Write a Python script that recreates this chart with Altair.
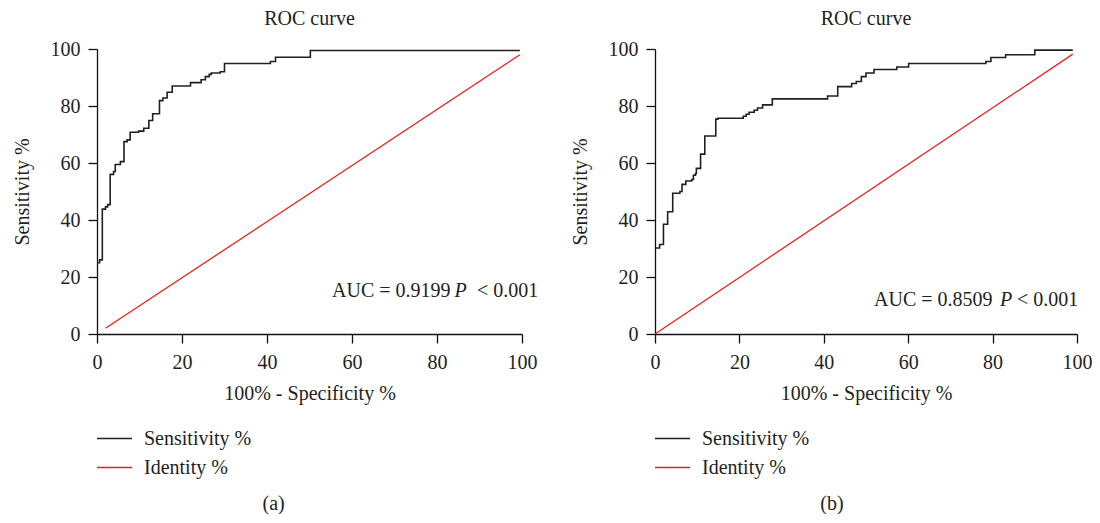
import altair as alt
import pandas as pd

F = "Liberation Serif"
TXT = "#231f20"

# ---- data ----
series = ["Sensitivity %", "Identity %"]
colors = ["#231f20", "#e8211c"]

# panel (a): ROC steps (x where a level starts, level)
a_fpr = [0, 0.6, 1.25, 2.0, 2.5, 3.1, 3.9, 4.3, 5.5, 6.35, 7.1, 7.8, 9.8, 11.0,
         12.2, 13.1, 14.7, 15.5, 16.5, 17.7, 22.0, 24.5, 25.5, 26.4, 26.9, 29.0,
         30.0, 40.8, 42.0, 50.2, 99.5]
a_sens = [25.0, 26.0, 43.8, 44.6, 45.4, 56.0, 57.0, 59.5, 60.5, 67.5, 68.1, 70.8,
          71.2, 72.2, 74.9, 77.3, 81.9, 82.8, 84.8, 87.0, 88.2, 89.2, 90.3, 91.1,
          91.6, 92.0, 94.9, 95.6, 97.1, 99.5, 99.5]
a_id_x = [2.0, 99.5]
a_id_y = [2.0, 98.0]

# panel (b)
b_fpr = [0, 1.1, 2.0, 3.0, 4.2, 5.9, 6.4, 7.3, 8.7, 9.1, 9.6, 9.8, 10.8, 11.8,
         14.4, 14.9, 20.9, 21.6, 22.3, 23.5, 24.3, 25.5, 27.8, 40.9, 43.3, 46.6,
         47.7, 48.9, 50.0, 51.9, 57.3, 60.1, 78.4, 79.6, 83.1, 90.0, 99.0]
b_sens = [30.2, 31.4, 38.5, 42.9, 49.4, 50.0, 52.5, 53.7, 54.2, 55.7, 56.3, 58.1,
          63.1, 69.5, 75.4, 75.7, 76.4, 77.1, 77.8, 78.5, 79.3, 80.4, 82.5, 83.5,
          86.8, 87.9, 88.6, 90.3, 91.6, 92.8, 93.7, 94.9, 95.6, 97.0, 98.0, 99.6, 99.6]
b_id_x = [0.0, 99.0]
b_id_y = [0.0, 98.2]

auc_texts = ["AUC = 0.9199", "AUC = 0.8509"]
p_label = "P"
p_value = "< 0.001"
tags = ["(a)", "(b)"]
ticks = [0, 20, 40, 60, 80, 100]


def panel(fpr, sens, idx, idy, auc, tag, w, h, auc_x, tag_x):
    roc = pd.DataFrame({"x": fpr, "y": sens, "s": series[0], "o": range(len(fpr))})
    ident = pd.DataFrame({"x": idx, "y": idy, "s": series[1], "o": range(len(idx))})
    one = pd.DataFrame({"k": [0]})

    color = alt.Color("s:N", scale=alt.Scale(domain=series, range=colors), legend=None)
    X = alt.X("x:Q", scale=alt.Scale(domain=[0, 100], nice=False, zero=False),
              axis=alt.Axis(values=ticks, title="100% - Specificity %", labelPadding=9,
                            titlePadding=11, labelFlush=False))
    Y = alt.Y("y:Q", scale=alt.Scale(domain=[0, 100], nice=False, zero=False),
              axis=alt.Axis(values=ticks, title="Sensitivity %", labelPadding=8,
                            titlePadding=18, labelFlush=False))

    red = alt.Chart(ident).mark_line(strokeWidth=1.3).encode(x=X, y=Y, color=color, order="o:Q")
    black = alt.Chart(roc).mark_line(strokeWidth=1.6, interpolate="step-after").encode(
        x=X, y=Y, color=color, order="o:Q")

    base = alt.Chart(one)
    t1 = base.mark_text(align="left", baseline="alphabetic", font=F, fontSize=20,
                        color=TXT, text=auc).encode(x=alt.value(auc_x[0]), y=alt.value(auc_x[3]))
    t2 = base.mark_text(align="left", baseline="alphabetic", font=F, fontSize=20,
                        fontStyle="italic", color=TXT, text=p_label).encode(
        x=alt.value(auc_x[1]), y=alt.value(auc_x[3]))
    t3 = base.mark_text(align="left", baseline="alphabetic", font=F, fontSize=20,
                        color=TXT, text=p_value).encode(x=alt.value(auc_x[2]), y=alt.value(auc_x[3]))

    leg = []
    for i, (lab, col) in enumerate(zip(series, colors)):
        yy = 389.5 + 29 * i
        leg.append(base.mark_rule(color=col, strokeWidth=1.4).encode(
            x=alt.value(0), x2=alt.value(35), y=alt.value(yy)))
        leg.append(base.mark_text(align="left", baseline="middle", font=F, fontSize=20,
                                  color=TXT, text=lab).encode(x=alt.value(47), y=alt.value(yy)))
    tg = base.mark_text(align="center", baseline="middle", font=F, fontSize=20,
                        color=TXT, text=tag).encode(x=alt.value(tag_x), y=alt.value(455))

    return alt.layer(red, black, t1, t2, t3, *leg, tg).properties(
        width=w, height=h,
        title=alt.TitleParams("ROC curve", font=F, fontSize=20, fontWeight="normal",
                              color=TXT, anchor="middle", offset=10),
    )


left = panel(a_fpr, a_sens, a_id_x, a_id_y, auc_texts[0], tags[0], 425, 285,
             (235, 357.5, 380, 248.3), 176.6)
right = panel(b_fpr, b_sens, b_id_x, b_id_y, auc_texts[1], tags[1], 422, 285,
              (219, 345, 362, 256.7), 177)

chart = alt.hconcat(left, right, spacing=31).properties(
    padding={"left": 4, "top": 1, "right": 0, "bottom": 0}
).configure_view(stroke=None).configure_axis(
    domainColor="#111", domainWidth=1.3, tickColor="#111", tickWidth=1.3, tickSize=9,
    labelFont=F, labelFontSize=20, labelColor=TXT, titleFont=F, titleFontSize=20,
    titleFontWeight="normal", titleColor=TXT, grid=False,
)

chart.save("out.html", embed_options={"renderer": "svg", "actions": False})
